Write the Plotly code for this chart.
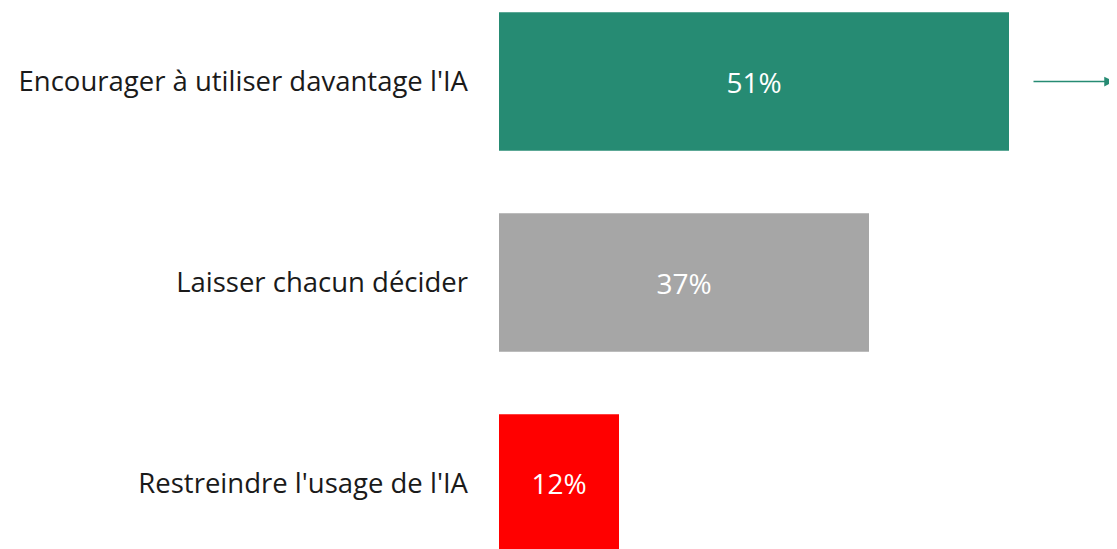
import plotly.graph_objects as go

categories = ["Encourager à utiliser davantage l'IA", "Laisser chacun décider", "Restreindre l'usage de l'IA"]
values = [51, 37, 12]
labels = ["51%", "37%", "12%"]
colors = ["#268B73", "#A6A6A6", "#FF0000"]

FONT = "Open Sans"

fig = go.Figure(go.Bar(
    x=values, y=categories, orientation="h",
    marker=dict(color=colors, line=dict(width=0)),
    text=labels, textposition="inside", insidetextanchor="middle",
    textfont=dict(color="white", size=28, family=FONT),
    width=0.69, hoverinfo="skip",
))

fig.add_annotation(
    x=61.5, y=0, xref="x", yref="y",
    ax=53.3, ay=0, axref="x", ayref="y",
    showarrow=True, arrowhead=2, arrowsize=1.3, arrowwidth=1.5,
    arrowcolor="#268B73", text="",
)

fig.update_layout(
    width=1109, height=541,
    margin=dict(l=491, r=0, t=0, b=0),
    paper_bgcolor="white", plot_bgcolor="white",
    showlegend=False,
    xaxis=dict(range=[0, 61.8], visible=False, fixedrange=True),
    yaxis=dict(
        type="category", range=[2.3259, -0.3657],
        showgrid=False, zeroline=False, showline=False, ticks="",
        ticklabelstandoff=30,
        tickfont=dict(size=27.5, color="#1a1a1a", family=FONT),
    ),
)

fig.write_html("out.html")
